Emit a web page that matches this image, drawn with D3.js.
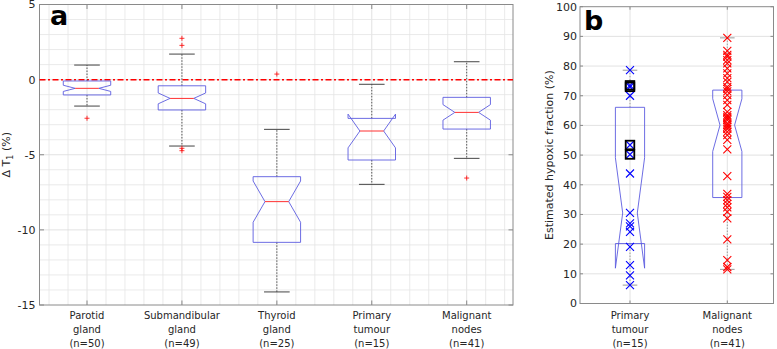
<!DOCTYPE html>
<html><head><meta charset="utf-8">
<script src="https://cdn.jsdelivr.net/npm/d3@7"></script>
<style>
body{margin:0;background:#fff}
svg{display:block}
text{font-family:"DejaVu Sans",sans-serif;fill:#262626}
</style>
</head><body>
<svg id="c" width="777" height="349"></svg>
<script>
// ---------- Panel a data ----------
const categoriesA = [["Parotid","gland"],["Submandibular","gland"],["Thyroid","gland"],["Primary","tumour"],["Malignant","nodes"]];
const countsA = [50, 49, 25, 15, 41];
const q1A = [-1.02, -2.02, -10.83, -5.35, -3.29];
const medianA = [-0.58, -1.25, -8.12, -3.42, -2.18];
const q3A = [-0.09, -0.41, -6.46, -2.58, -1.18];
const whiskLoA = [-1.76, -4.42, -14.13, -6.97, -5.24];
const whiskHiA = [0.97, 1.70, -3.31, -0.31, 1.19];
const outliersA = [[-2.57], [2.75, 2.28, -4.57, -4.73], [0.37], [], [-6.55]];
const yTicksA = [5, 0, -5, -10, -15];

// ---------- Panel b data ----------
const categoriesB = [["Primary","tumour"],["Malignant","nodes"]];
const countsB = [15, 41];
const q1B = [20.2, 35.7];
const medianB = [30.5, 60.1];
const q3B = [66.1, 71.9];
const whiskLoB = [6.2, 11.5];
const whiskHiB = [78.6, 89.5];
const pointsPrimary = [78.6, 73.5, 73.0, 70.0, 53.4, 50.2, 43.8, 30.5, 27.0, 26.0, 24.1, 19.1, 12.9, 9.5, 6.2];
const boxedPrimary = [73.5, 73.0, 53.4, 50.2];
const pointsNodes = [89.5, 85.1, 83.8, 83.2, 82.0, 80.9, 79.2, 77.5, 75.9, 74.7, 73.0, 72.3, 71.5, 70.2, 68.5, 66.9, 64.6, 63.5, 62.9, 62.4, 61.8, 60.7, 60.1, 59.5, 58.8, 57.8, 56.7, 55.1, 51.9, 42.9, 36.9, 35.9, 34.8, 33.6, 32.4, 30.9, 28.7, 21.6, 14.6, 12.3, 11.5];
const yTicksB = [0, 10, 20, 30, 40, 50, 60, 70, 80, 90, 100];

const svg = d3.select("#c");
const AX = "#8a8a8a", GRID = "#e4e4e4", GRIDMAJ = "#dadada";
const BOXC = "#5c5ce0";

function catLabels(g, x, cats, counts, y0) {
  cats.forEach((c, i) => {
    const t = g.append("text").attr("x", x(i + 1)).attr("text-anchor", "middle").attr("font-size", 10);
    [c[0], c[1], "(n=" + counts[i] + ")"].forEach((s, k) => {
      t.append("tspan").attr("x", x(i + 1)).attr("y", y0 + 14 * k).text(s);
    });
  });
}

function notchBox(g, x, y, i, q1, med, q3, n, w) {
  const c = x(i + 1);
  const hw = (x(1 + w) - x(1)) / 2;
  const nw = hw / 2;
  const d = 1.57 * (q3 - q1) / Math.sqrt(n);
  const lo = med - d, hi = med + d;
  const pts = [[c - hw, q1], [c - hw, lo], [c - nw, med], [c - hw, hi], [c - hw, q3], [c + hw, q3], [c + hw, hi], [c + nw, med], [c + hw, lo], [c + hw, q1]];
  g.append("path")
    .attr("d", d3.line().x(p => p[0]).y(p => y(p[1]))(pts) + "Z")
    .attr("fill", "none").attr("stroke", BOXC).attr("stroke-width", 0.9);
  return { c, nw };
}

// ================= Panel a =================
{
  const L = 39.5, R = 513, T = 4.5, B = 305;
  const x = d3.scaleLinear([1, 5], [87, 466.7]);
  const y = d3.scaleLinear([-15, 5], [B, T]);
  const g = svg.append("g");
  // minor vertical grid
  d3.range(0.6, 5.41, 0.2).forEach(v => {
    const isMaj = Math.abs(v - Math.round(v)) < 1e-6;
    g.append("line").attr("x1", x(v)).attr("x2", x(v)).attr("y1", T).attr("y2", B)
      .attr("stroke", isMaj ? GRIDMAJ : GRID).attr("stroke-width", 0.8);
  });
  d3.range(-14, 5, 1).forEach(v => {
    const isMaj = v % 5 === 0;
    g.append("line").attr("x1", L).attr("x2", R).attr("y1", y(v)).attr("y2", y(v))
      .attr("stroke", isMaj ? GRIDMAJ : GRID).attr("stroke-width", 0.8);
  });
  // frame
  g.append("rect").attr("x", L).attr("y", T).attr("width", R - L).attr("height", B - T)
    .attr("fill", "none").attr("stroke", AX).attr("stroke-width", 1);
  // ticks
  yTicksA.forEach(v => {
    g.append("line").attr("x1", L).attr("x2", L + 4.5).attr("y1", y(v)).attr("y2", y(v)).attr("stroke", AX);
    g.append("line").attr("x1", R).attr("x2", R - 4.5).attr("y1", y(v)).attr("y2", y(v)).attr("stroke", AX);
    g.append("text").attr("x", L - 4).attr("y", y(v)).attr("dy", "0.36em").attr("text-anchor", "end")
      .attr("font-size", 11).text(v);
  });
  categoriesA.forEach((c, i) => {
    g.append("line").attr("x1", x(i + 1)).attr("x2", x(i + 1)).attr("y1", T).attr("y2", T + 4.5).attr("stroke", AX);
    g.append("line").attr("x1", x(i + 1)).attr("x2", x(i + 1)).attr("y1", B).attr("y2", B - 4.5).attr("stroke", AX);
  });
  catLabels(g, x, categoriesA, countsA, 318.6);
  // zero line
  g.append("line").attr("x1", L).attr("x2", R).attr("y1", y(0)).attr("y2", y(0))
    .attr("stroke", "#ff0000").attr("stroke-width", 1.5).attr("stroke-dasharray", "6,2.5,2,2.5");
  // boxes
  categoriesA.forEach((c, i) => {
    const cx = x(i + 1);
    const capHw = (x(1.27) - x(1)) / 2;
    // whiskers
    g.append("line").attr("x1", cx).attr("x2", cx).attr("y1", y(q3A[i])).attr("y2", y(whiskHiA[i]))
      .attr("stroke", "#333").attr("stroke-width", 0.8).attr("stroke-dasharray", "1.5,1.5");
    g.append("line").attr("x1", cx).attr("x2", cx).attr("y1", y(q1A[i])).attr("y2", y(whiskLoA[i]))
      .attr("stroke", "#333").attr("stroke-width", 0.8).attr("stroke-dasharray", "1.5,1.5");
    [whiskHiA[i], whiskLoA[i]].forEach(v => {
      g.append("line").attr("x1", cx - capHw).attr("x2", cx + capHw).attr("y1", y(v)).attr("y2", y(v))
        .attr("stroke", "#444").attr("stroke-width", 1);
    });
    const r = notchBox(g, x, y, i, q1A[i], medianA[i], q3A[i], countsA[i], 0.5);
    g.append("line").attr("x1", r.c - r.nw).attr("x2", r.c + r.nw).attr("y1", y(medianA[i])).attr("y2", y(medianA[i]))
      .attr("stroke", "#ff3030").attr("stroke-width", 1);
    outliersA[i].forEach(v => {
      const py = y(v);
      g.append("path").attr("d", `M${cx - 2.5},${py}H${cx + 2.5}M${cx},${py - 2.5}V${py + 2.5}`)
        .attr("stroke", "#ff0000").attr("stroke-width", 0.8);
    });
  });
  // y label
  const yl = g.append("text").attr("transform", `translate(10,${(T + B) / 2}) rotate(-90)`)
    .attr("text-anchor", "middle").attr("font-size", 11);
  yl.append("tspan").text("Δ T");
  yl.append("tspan").attr("font-size", 8).attr("dy", 3).text("1");
  yl.append("tspan").attr("dy", -3).text(" (%)");
  // panel label
  g.append("text").attr("x", 50).attr("y", 25).attr("font-family", "Liberation Sans, Arial, sans-serif")
    .attr("font-weight", "bold").attr("font-size", 27).attr("fill", "#000").style("fill", "#000").text("a");
}

// ================= Panel b =================
{
  const L = 580, R = 773.5, T = 6.7, B = 303.5;
  const x = d3.scaleLinear([1, 2], [630, 727.3]);
  const y = d3.scaleLinear([0, 100], [B, T]);
  const g = svg.append("g");
  yTicksB.slice(1, -1).forEach(v => {
    g.append("line").attr("x1", L).attr("x2", R).attr("y1", y(v)).attr("y2", y(v)).attr("stroke", GRIDMAJ).attr("stroke-width", 0.8);
  });
  categoriesB.forEach((c, i) => {
    g.append("line").attr("x1", x(i + 1)).attr("x2", x(i + 1)).attr("y1", T).attr("y2", B).attr("stroke", GRIDMAJ).attr("stroke-width", 0.8);
  });
  g.append("rect").attr("x", L).attr("y", T).attr("width", R - L).attr("height", B - T)
    .attr("fill", "none").attr("stroke", AX).attr("stroke-width", 1);
  yTicksB.forEach(v => {
    g.append("line").attr("x1", L).attr("x2", L + 3).attr("y1", y(v)).attr("y2", y(v)).attr("stroke", AX);
    g.append("line").attr("x1", R).attr("x2", R - 3).attr("y1", y(v)).attr("y2", y(v)).attr("stroke", AX);
    g.append("text").attr("x", L - 3).attr("y", y(v)).attr("dy", "0.36em").attr("text-anchor", "end")
      .attr("font-size", 11).text(v);
  });
  categoriesB.forEach((c, i) => {
    g.append("line").attr("x1", x(i + 1)).attr("x2", x(i + 1)).attr("y1", T).attr("y2", T + 3).attr("stroke", AX);
    g.append("line").attr("x1", x(i + 1)).attr("x2", x(i + 1)).attr("y1", B).attr("y2", B - 3).attr("stroke", AX);
  });
  catLabels(g, x, categoriesB, countsB, 318.6);
  const sets = [pointsPrimary, pointsNodes];
  const cols = ["#0000ff", "#ff0000"];
  categoriesB.forEach((c, i) => {
    const cx = x(i + 1);
    const capHw = (x(1.15) - x(1)) / 2;
    g.append("line").attr("x1", cx).attr("x2", cx).attr("y1", y(q3B[i])).attr("y2", y(whiskHiB[i]))
      .attr("stroke", "#888").attr("stroke-width", 0.8).attr("stroke-dasharray", "1.5,1.5");
    g.append("line").attr("x1", cx).attr("x2", cx).attr("y1", y(q1B[i])).attr("y2", y(whiskLoB[i]))
      .attr("stroke", "#888").attr("stroke-width", 0.8).attr("stroke-dasharray", "1.5,1.5");
    [whiskHiB[i], whiskLoB[i]].forEach(v => {
      g.append("line").attr("x1", cx - capHw).attr("x2", cx + capHw).attr("y1", y(v)).attr("y2", y(v))
        .attr("stroke", "#999").attr("stroke-width", 1);
    });
    notchBox(g, x, y, i, q1B[i], medianB[i], q3B[i], countsB[i], 0.3);
    sets[i].forEach(v => {
      const py = y(v), s = 4;
      g.append("path").attr("d", `M${cx - s},${py - s}L${cx + s},${py + s}M${cx - s},${py + s}L${cx + s},${py - s}`)
        .attr("stroke", cols[i]).attr("stroke-width", 1.1).attr("fill", "none");
    });
  });
  boxedPrimary.forEach(v => {
    const cx = x(1), py = y(v);
    g.append("rect").attr("x", cx - 4.3).attr("y", py - 4.3).attr("width", 8.6).attr("height", 8.6)
      .attr("fill", "none").attr("stroke", "#000").attr("stroke-width", 1.8);
  });
  g.append("text").attr("transform", `translate(553,${(T + B) / 2}) rotate(-90)`)
    .attr("text-anchor", "middle").attr("font-size", 11).text("Estimated hypoxic fraction (%)");
  g.append("text").attr("x", 584).attr("y", 30).attr("font-family", "Liberation Sans, Arial, sans-serif")
    .attr("font-weight", "bold").attr("font-size", 27).style("fill", "#000").text("b");
}
</script>
</body></html>
